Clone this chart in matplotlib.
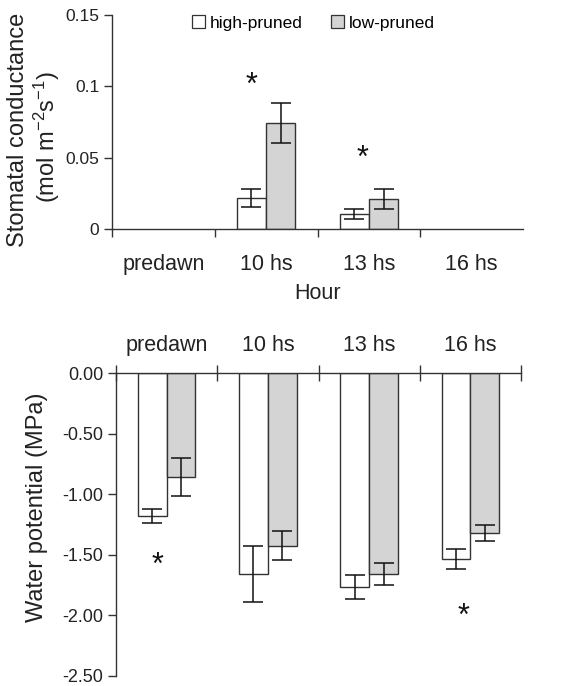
import numpy as np
import matplotlib
matplotlib.use("Agg")
import matplotlib.pyplot as plt
from matplotlib.patches import Patch

plt.rcParams['font.family'] = ['Liberation Sans', 'DejaVu Sans']
plt.rcParams['mathtext.fontset'] = 'custom'
plt.rcParams['mathtext.rm'] = 'Liberation Sans'
plt.rcParams['mathtext.it'] = 'Liberation Sans'

hours = ['predawn', '10 hs', '13 hs', '16 hs']

# stomatal conductance (mol m-2 s-1), nan = not measured
gs_high = [np.nan, 0.0217, 0.0105, np.nan]
gs_high_err = [0, 0.0060, 0.0033, 0]
gs_low = [np.nan, 0.0743, 0.0210, np.nan]
gs_low_err = [0, 0.0143, 0.0067, 0]
gs_stars_x = [1.36, 2.44]
gs_stars_y = [0.100, 0.049]

# water potential (MPa)
wp_high = [-1.180, -1.656, -1.763, -1.534]
wp_high_err = [0.055, 0.230, 0.100, 0.083]
wp_low = [-0.857, -1.427, -1.658, -1.322]
wp_low_err = [0.155, 0.120, 0.094, 0.068]
wp_stars_x = [0.41, 3.43]
wp_stars_y = [-1.59, -2.01]

W, H = 565, 686
line_c = '#333333'
gray = '#d4d4d4'
bw = 0.285
capsize = 7.5

fig = plt.figure(figsize=(W / 100, H / 100), dpi=100)


def bars(ax, vals, errs, offset, color):
    x = np.arange(len(vals)) + 0.5 + offset
    vals = np.array(vals, dtype=float)
    ok = ~np.isnan(vals)
    ax.bar(x[ok], vals[ok], width=bw, color=color, edgecolor=line_c, linewidth=1.0, zorder=2)
    ax.errorbar(x[ok], vals[ok], yerr=np.array(errs)[ok], fmt='none', ecolor='#111111',
                elinewidth=1.1, capsize=capsize, capthick=1.1, zorder=3)


# ---- top panel: stomatal conductance
ax1 = fig.add_axes([112 / W, 1 - 229 / H, 411 / W, 214 / H])
bars(ax1, gs_high, gs_high_err, -bw / 2, 'white')
bars(ax1, gs_low, gs_low_err, bw / 2, gray)
ax1.set_xlim(0, 4)
ax1.set_ylim(0, 0.15)
ax1.set_yticks([0, 0.05, 0.1, 0.15])
ax1.set_yticklabels(['0', '0.05', '0.1', '0.15'])
ax1.set_xticks([0, 1, 2, 3])
ax1.set_xticklabels([])
ax1.set_xticks(np.arange(4) + 0.5, minor=True)
ax1.set_xticklabels(hours, minor=True, fontsize=15.5)
ax1.tick_params(axis='x', which='minor', length=0, pad=18, colors='#222222')
ax1.tick_params(axis='x', which='major', direction='out', length=6, width=1, color=line_c)
ax1.tick_params(axis='y', direction='out', length=6, width=1, color=line_c,
                labelsize=12.5, labelcolor='#222222', pad=3)
for s in ['top', 'right']:
    ax1.spines[s].set_visible(False)
for s in ['left', 'bottom']:
    ax1.spines[s].set_color(line_c)
    ax1.spines[s].set_linewidth(1)
for x, y in zip(gs_stars_x, gs_stars_y):
    ax1.text(x, y, '*', fontsize=22, ha='center', va='center', color='#111111')
ax1.set_xlabel('Hour', fontsize=15.5, labelpad=6, color='#222222')
fig.text(18 / W, 1 - 130 / H, 'Stomatal conductance', rotation=90, fontsize=17,
         ha='center', va='center', color='#222222')
fig.text(47 / W, 1 - 137 / H, r'(mol m$^{-2}$s$^{-1}$)', rotation=90, fontsize=17,
         ha='center', va='center', color='#222222')
handles = [Patch(facecolor='white', edgecolor=line_c, linewidth=0.9),
           Patch(facecolor=gray, edgecolor=line_c, linewidth=0.9)]
ax1.legend(handles, ['high-pruned', 'low-pruned'], loc='upper center',
           bbox_to_anchor=(0.49, 1.072), ncol=2, frameon=False, fontsize=12.5,
           handlelength=0.75, handleheight=0.75, handletextpad=0.3, columnspacing=1.6)

# ---- bottom panel: water potential
ax2 = fig.add_axes([116 / W, 1 - 676 / H, 405 / W, 303 / H])
bars(ax2, wp_high, wp_high_err, -bw / 2, 'white')
bars(ax2, wp_low, wp_low_err, bw / 2, gray)
ax2.set_xlim(0, 4)
ax2.set_ylim(-2.5, 0)
yt = [0, -0.5, -1.0, -1.5, -2.0, -2.5]
ax2.set_yticks(yt)
ax2.set_yticklabels(['%.2f' % v if v == 0 else '-%.2f' % abs(v) for v in yt])
ax2.xaxis.set_ticks_position('top')
ax2.set_xticks([0, 1, 2, 3, 4])
ax2.set_xticklabels([])
ax2.set_xticks(np.arange(4) + 0.5, minor=True)
ax2.set_xticklabels(hours, minor=True, fontsize=15.5)
ax2.tick_params(axis='x', which='minor', length=0, pad=12, colors='#222222')
ax2.tick_params(axis='x', which='major', direction='inout', length=12, width=1, color=line_c)
ax2.tick_params(axis='y', direction='out', length=6, width=1, color=line_c,
                labelsize=13, labelcolor='#222222', pad=3)
for s in ['bottom', 'right']:
    ax2.spines[s].set_visible(False)
for s in ['left', 'top']:
    ax2.spines[s].set_color(line_c)
    ax2.spines[s].set_linewidth(1)
for x, y in zip(wp_stars_x, wp_stars_y):
    ax2.text(x, y, '*', fontsize=22, ha='center', va='center', color='#111111')
fig.text(37 / W, 1 - 507 / H, 'Water potential (MPa)', rotation=90, fontsize=17,
         ha='center', va='center', color='#222222')

fig.savefig('out.png', dpi=100)
